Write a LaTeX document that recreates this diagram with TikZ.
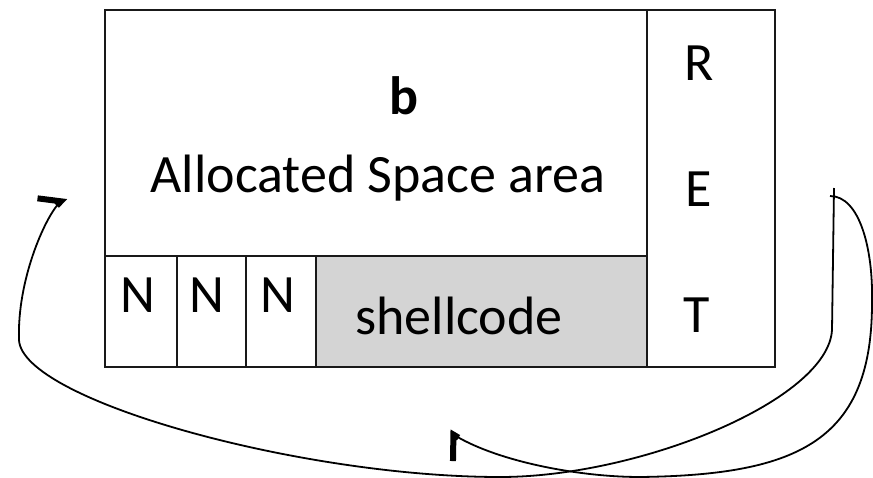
\documentclass[tikz,border=0pt]{standalone}
\usepackage{fontspec}
\setmainfont{Carlito}
\usetikzlibrary{arrows.meta}

\tikzset{
  cell/.style={draw=black!90, line width=2.2pt, inner sep=0pt},
  lbl/.style={anchor=base, inner sep=0pt, font=\fontsize{54}{64}\selectfont},
  jump/.style={line width=1.8pt},
  barbl/.style={-{Straight Barb[left,length=14pt,width=38pt,line width=6pt]}},
  barbm/.style={-{Straight Barb[left,length=13pt,width=46pt,line width=6pt]}},
}

\begin{document}
\begin{tikzpicture}[x=1pt,y=-1pt]
        \useasboundingbox (0,0) rectangle (873,477);
        % buffer and saved return address
        \node[cell, minimum width=542pt, minimum height=246pt] (alloc) at (376,133) {};
        \node[cell, minimum width=128pt, minimum height=357pt] (ret) at (711,188.5) {};
        \node[cell, minimum width=72pt, minimum height=111pt] (n1) at (141,311.5) {};
        \node[cell, minimum width=69pt, minimum height=111pt] (n2) at (211.5,311.5) {};
        \node[cell, minimum width=70pt, minimum height=111pt] (n3) at (281,311.5) {};
        \node[cell, fill=black!17, minimum width=331pt, minimum height=111pt] (shell) at (481.5,311.5) {};

        \node[lbl] (bname) at (404,114) {\bfseries b};
        \node[lbl] (area) at (378,192) {Allocated Space area};
        \node[lbl] (r) at (699,80) {R};
        \node[lbl] (e) at (699,206) {E};
        \node[lbl] (t) at (697,332) {T};
        \node[lbl] (nop1) at (138,312) {N};
        \node[lbl] (nop2) at (207,312) {N};
        \node[lbl] (nop3) at (278,312) {N};
        \node[lbl] (code) at (459,334) {shellcode};

        % the two jumps
        \coordinate (top) at (834,188);
        \coordinate (hook) at (830,196);
        \coordinate (tipl) at (65,197);
        \coordinate (tipm) at (449,432);
        \draw[jump, barbl] (top) -- (832,330) .. controls (828,400) and (640,477) .. (500,477)
            .. controls (300,477) and (22,400) .. (19,340) .. controls (17,280) and (45,218) .. (tipl);
        \draw[jump, barbm] (hook) .. controls (860,196) and (873,250) .. (872,300)
            .. controls (873,440) and (800,475) .. (640,477) .. controls (580,477) and (500,462) .. (tipm);
\end{tikzpicture}
\end{document}
